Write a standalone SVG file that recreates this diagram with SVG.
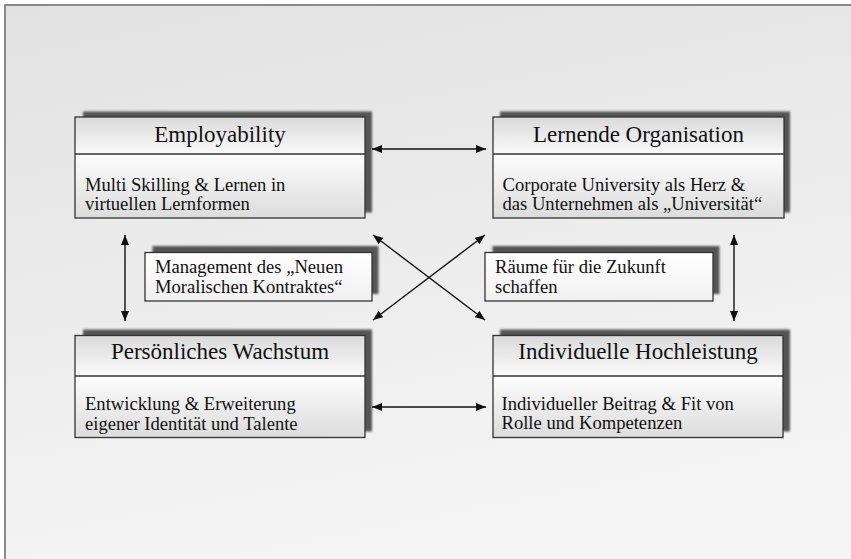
<svg xmlns="http://www.w3.org/2000/svg" width="851" height="559" viewBox="0 0 851 559">
<defs>
<linearGradient id="bg" x1="0" y1="0" x2="0.3" y2="1">
<stop offset="0" stop-color="#e2e2e2"/>
<stop offset="1" stop-color="#f5f5f5"/>
</linearGradient>
<linearGradient id="hdr" x1="0" y1="0" x2="0" y2="1">
<stop offset="0" stop-color="#dadada"/>
<stop offset="1" stop-color="#fafafa"/>
</linearGradient>
<linearGradient id="bdy" x1="0" y1="0" x2="0" y2="1">
<stop offset="0" stop-color="#fdfdfd"/>
<stop offset="1" stop-color="#dcdcdc"/>
</linearGradient>
<linearGradient id="sml" x1="0" y1="0" x2="0" y2="1">
<stop offset="0" stop-color="#ffffff"/>
<stop offset="1" stop-color="#f0f0f0"/>
</linearGradient>
<filter id="blur" x="-10%" y="-10%" width="120%" height="120%">
<feGaussianBlur stdDeviation="1.2"/>
</filter>
<marker id="ah" viewBox="0 0 10 8" refX="10" refY="4" markerWidth="10" markerHeight="8" markerUnits="userSpaceOnUse" orient="auto-start-reverse">
<path d="M0,0 L10,4 L0,8 z" fill="#111"/>
</marker>
<style>
.shadow{fill:#555555;filter:url(#blur);}
.frame{fill:none;stroke:#333;stroke-width:1.3;}
.hdr{fill:url(#hdr);}
.bdy{fill:url(#bdy);}
.sml{fill:url(#sml);stroke:#333;stroke-width:1.3;}
.div{stroke:#333;stroke-width:1.3;}
text{font-family:'Liberation Serif','DejaVu Serif','Times New Roman',serif;fill:#111;}
.title{font-size:23px;text-anchor:middle;}
.body{font-size:18.6px;}
.conn{stroke:#111;stroke-width:1.4;fill:none;marker-start:url(#ah);marker-end:url(#ah);}
</style>
</defs>
<rect x="0" y="0" width="851" height="559" fill="#ffffff"/>
<rect x="5" y="5" width="850" height="560" fill="url(#bg)" stroke="#8a8a8a" stroke-width="2"/>

<g id="employability">
<rect class="shadow" x="83" y="111.5" width="289" height="101"/>
<rect class="hdr" x="75" y="117" width="290" height="37"/>
<rect class="bdy" x="75" y="154" width="290" height="64"/>
<rect class="frame" x="75" y="117" width="290" height="101"/>
<line class="div" x1="75" y1="154" x2="365" y2="154"/>
<text class="title" x="220" y="142" font-family="Liberation Serif, serif">Employability</text>
<text class="body" x="85" y="190.5" font-family="Liberation Serif, serif">Multi Skilling &amp; Lernen in</text>
<text class="body" x="85" y="210" font-family="Liberation Serif, serif">virtuellen Lernformen</text>
</g>

<g id="lernende-organisation">
<rect class="shadow" x="500" y="111.5" width="290" height="101"/>
<rect class="hdr" x="493" y="117" width="291" height="37"/>
<rect class="bdy" x="493" y="154" width="291" height="64"/>
<rect class="frame" x="493" y="117" width="291" height="101"/>
<line class="div" x1="493" y1="154" x2="784" y2="154"/>
<text class="title" x="638.5" y="142" font-family="Liberation Serif, serif">Lernende Organisation</text>
<text class="body" x="502.5" y="190.5" font-family="Liberation Serif, serif">Corporate University als Herz &amp;</text>
<text class="body" x="502.5" y="210" font-family="Liberation Serif, serif">das Unternehmen als „Universität“</text>
</g>

<g id="management">
<rect class="shadow" x="152.5" y="246" width="226" height="48"/>
<rect class="sml" x="145" y="252.5" width="227" height="48.5"/>
<text class="body" x="155" y="273.3" font-family="Liberation Serif, serif">Management des „Neuen</text>
<text class="body" x="155" y="293" font-family="Liberation Serif, serif">Moralischen Kontraktes“</text>
</g>

<g id="raeume">
<rect class="shadow" x="492.5" y="246" width="227" height="48"/>
<rect class="sml" x="485" y="252.5" width="228" height="48.5"/>
<text class="body" x="495" y="273.3" font-family="Liberation Serif, serif">Räume für die Zukunft</text>
<text class="body" x="495" y="293" font-family="Liberation Serif, serif">schaffen</text>
</g>

<g id="persoenliches-wachstum">
<rect class="shadow" x="83" y="329.5" width="289" height="102"/>
<rect class="hdr" x="75" y="335.5" width="290" height="40.5"/>
<rect class="bdy" x="75" y="376" width="290" height="61.5"/>
<rect class="frame" x="75" y="335.5" width="290" height="102"/>
<line class="div" x1="75" y1="376" x2="365" y2="376"/>
<text class="title" x="220" y="358.5" font-family="Liberation Serif, serif">Persönliches Wachstum</text>
<text class="body" x="85" y="410" font-family="Liberation Serif, serif">Entwicklung &amp; Erweiterung</text>
<text class="body" x="85" y="429.5" font-family="Liberation Serif, serif">eigener Identität und Talente</text>
</g>

<g id="individuelle-hochleistung">
<rect class="shadow" x="500" y="329.5" width="290" height="102"/>
<rect class="hdr" x="493" y="335.5" width="290" height="40.5"/>
<rect class="bdy" x="493" y="376" width="290" height="61.5"/>
<rect class="frame" x="493" y="335.5" width="290" height="102"/>
<line class="div" x1="493" y1="376" x2="783" y2="376"/>
<text class="title" x="638" y="358.5" font-family="Liberation Serif, serif">Individuelle Hochleistung</text>
<text class="body" x="501.5" y="409.5" font-family="Liberation Serif, serif">Individueller Beitrag &amp; Fit von</text>
<text class="body" x="501.5" y="429" font-family="Liberation Serif, serif">Rolle und Kompetenzen</text>
</g>

<g id="connectors">
<line class="conn" x1="372" y1="149" x2="486" y2="149"/>
<line class="conn" x1="372" y1="407" x2="486" y2="407"/>
<line class="conn" x1="125" y1="235" x2="125" y2="321"/>
<line class="conn" x1="734" y1="235" x2="734" y2="321"/>
<line class="conn" x1="373" y1="235" x2="485" y2="320"/>
<line class="conn" x1="485" y1="235" x2="373" y2="320"/>
</g>
</svg>
